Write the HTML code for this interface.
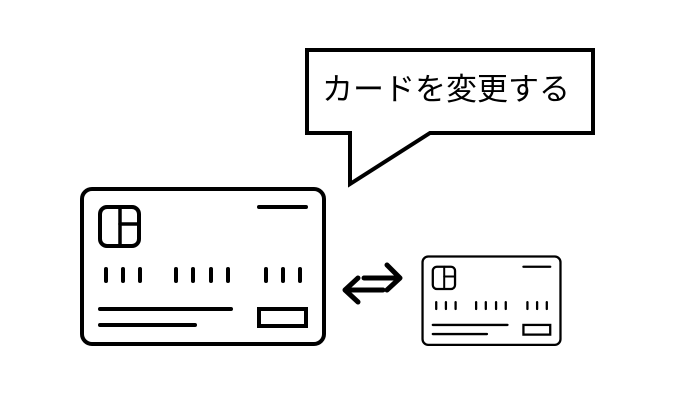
<!DOCTYPE html>
<html><head><meta charset="utf-8"><style>
html,body{margin:0;padding:0;background:#fff;}
svg{display:block}
</style></head><body>
<svg width="700" height="400" viewBox="0 0 700 400" xmlns="http://www.w3.org/2000/svg">
<defs>
<g id="card" fill="none" stroke="#000" stroke-linecap="round">
  <rect x="82" y="189" width="242" height="155" rx="10" stroke-width="4"/>
  <rect x="100" y="207" width="39" height="39" rx="7" stroke-width="4"/>
  <line x1="120" y1="207" x2="120" y2="246" stroke-width="3.5"/>
  <line x1="120" y1="224" x2="139" y2="224" stroke-width="3.5"/>
  <line x1="259" y1="207" x2="306" y2="207" stroke-width="4"/>
  <g stroke-width="4">
    <line x1="106" y1="269" x2="106" y2="281"/>
    <line x1="123" y1="269" x2="123" y2="281"/>
    <line x1="140" y1="269" x2="140" y2="281"/>
    <line x1="176" y1="269" x2="176" y2="281"/>
    <line x1="193" y1="269" x2="193" y2="281"/>
    <line x1="211" y1="269" x2="211" y2="281"/>
    <line x1="228" y1="269" x2="228" y2="281"/>
    <line x1="266" y1="269" x2="266" y2="281"/>
    <line x1="283" y1="269" x2="283" y2="281"/>
    <line x1="300" y1="269" x2="300" y2="281"/>
  </g>
  <line x1="100" y1="309" x2="231" y2="309" stroke-width="4"/>
  <line x1="100" y1="325" x2="195" y2="325" stroke-width="4"/>
  <rect x="259" y="309" width="47" height="17" stroke-width="4" stroke-linecap="butt"/>
</g>
</defs>
<use href="#card"/>
<g transform="translate(375.8,148.8) scale(0.57)"><use href="#card"/></g>
<g fill="none" stroke="#000" stroke-width="5" stroke-linecap="round" stroke-linejoin="round">
  <line x1="364" y1="278" x2="399" y2="278"/>
  <polyline points="387,265 400,278 387,290"/>
  <line x1="346" y1="290" x2="383" y2="290"/>
  <polyline points="358,278 345,290 358,302"/>
</g>
<path d="M307,50 H593 V133 H430 L350,184 V133 H307 Z" fill="#fff" stroke="#000" stroke-width="4" stroke-linejoin="miter"/>
<text x="322" y="100" font-family="'Liberation Sans','Noto Sans CJK JP',sans-serif" font-size="31" fill="#000">カードを変更する</text>
</svg>
</body></html>
